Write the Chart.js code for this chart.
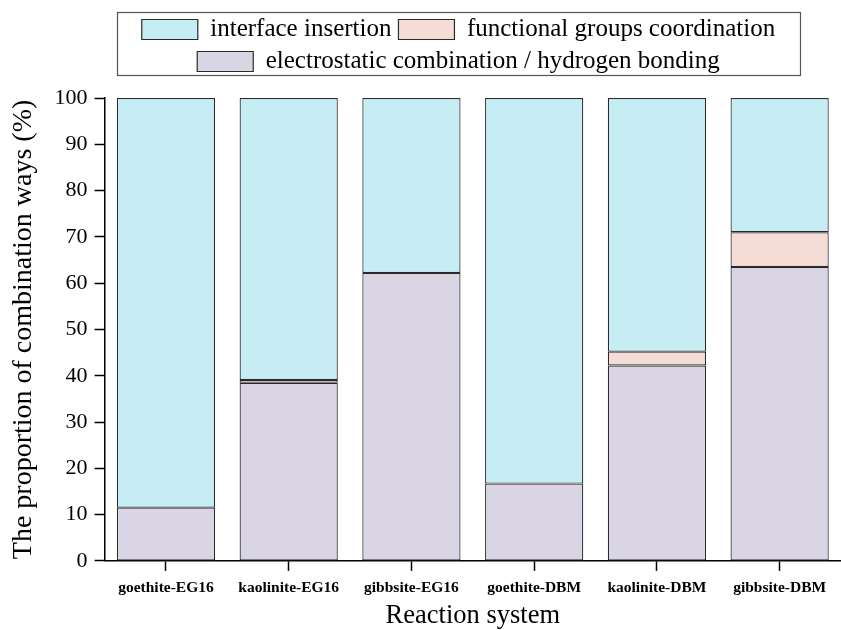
<!DOCTYPE html>
<html>
<head>
<meta charset="utf-8">
<script src="https://cdn.jsdelivr.net/npm/chart.js@4/dist/chart.umd.min.js"></script>
<style>
  html, body { margin: 0; padding: 0; background: #fff; }
  #wrap { width: 841px; height: 630px; }
</style>
</head>
<body>
<div id="wrap"><canvas id="c" width="841" height="630"></canvas></div>
<script>
// Reaction systems on the x axis
const systems = ['goethite-EG16', 'kaolinite-EG16', 'gibbsite-EG16', 'goethite-DBM', 'kaolinite-DBM', 'gibbsite-DBM'];
// Share of each combination way (%)
const electrostatic = [11.5, 38.5, 62.2, 16.7, 42.2, 63.5];
const functionalGroups = [0, 0.6, 0, 0, 3.0, 7.5];
const interfaceInsertion = [88.5, 60.9, 37.8, 83.3, 54.8, 29.0];
const yTicks = [0, 10, 20, 30, 40, 50, 60, 70, 80, 90, 100];

const serif = "'Liberation Serif', 'Times New Roman', serif";
const edge = '#2a2a2a';

// Frame around the legend entries
const legendFrame = {
  id: 'legendFrame',
  afterDraw(chart) {
    const lg = chart.legend;
    if (!lg || !lg.legendHitBoxes || !lg.legendHitBoxes.length) return;
    const boxes = lg.legendHitBoxes;
    let l = Infinity, r = -Infinity, t = Infinity, b = -Infinity;
    boxes.forEach(h => {
      l = Math.min(l, h.left); r = Math.max(r, h.left + h.width);
      t = Math.min(t, h.top); b = Math.max(b, h.top + h.height);
    });
    const ctx = chart.ctx;
    ctx.save();
    ctx.strokeStyle = '#555';
    ctx.lineWidth = 1.2;
    const x0 = Math.round(l - 25) + 0.5, y0 = Math.round(t - 5) + 0.5;
    ctx.strokeRect(x0, y0, Math.round(r - l + 50), Math.round(b - t + 6));
    ctx.restore();
  }
};

// Legend block: extra room below it, and set a little right of the canvas centre
const legendPlacement = {
  id: 'legendPlacement',
  beforeInit(chart) {
    const origFit = chart.legend.fit;
    chart.legend.fit = function () {
      origFit.bind(chart.legend)();
      this.height += 14;
    };
  },
  afterLayout(chart) {
    const lg = chart.legend;
    if (!lg) return;
    lg.left += 38;
    lg.right += 38;
  }
};

// Segments with no share get no outline
const segBorder = ctx => (ctx.type === 'data' && ctx.raw === 0 ? 0 : 1.2);

new Chart(document.getElementById('c'), {
  type: 'bar',
  data: {
    labels: systems,
    datasets: [
      { label: 'electrostatic combination / hydrogen bonding', data: electrostatic, backgroundColor: '#DAD5E5' },
      { label: 'functional groups coordination', data: functionalGroups, backgroundColor: '#F6DCD6' },
      { label: 'interface insertion', data: interfaceInsertion, backgroundColor: '#C6ECF4' }
    ].map(d => Object.assign(d, { borderColor: edge, borderWidth: segBorder, borderSkipped: false, barPercentage: 0.8, categoryPercentage: 1 }))
  },
  options: {
    responsive: false,
    animation: false,
    devicePixelRatio: 1,
    layout: { padding: { top: 10, right: 0, left: 0, bottom: 1 } },
    plugins: {
      legend: {
        position: 'top',
        reverse: true,
        labels: {
          font: { family: serif, size: 25 },
          color: '#000',
          boxWidth: 56,
          boxHeight: 20,
          padding: 7,
          generateLabels(chart) {
            return Chart.defaults.plugins.legend.labels.generateLabels(chart)
              .map(item => Object.assign(item, { lineWidth: 1.2, strokeStyle: edge }));
          }
        }
      },
      tooltip: { enabled: false }
    },
    scales: {
      x: {
        stacked: true,
        offset: true,
        grid: { display: true, drawOnChartArea: false, offset: false, tickLength: 10, color: '#000', tickWidth: 1.5 },
        border: { color: '#000', width: 1.5 },
        ticks: { font: { family: serif, size: 15.5, weight: 'bold' }, color: '#000', padding: 8, maxRotation: 0, autoSkip: false },
        title: { display: true, text: 'Reaction system', font: { family: serif, size: 26.5, lineHeight: 1 }, color: '#000', padding: { top: -3, bottom: 0 } }
      },
      y: {
        stacked: true,
        min: 0,
        max: 100,
        afterBuildTicks(axis) { axis.ticks = yTicks.map(v => ({ value: v })); },
        grid: { display: true, drawOnChartArea: false, tickLength: 10, color: '#000', tickWidth: 1.5 },
        border: { color: '#000', width: 1.5 },
        ticks: { font: { family: serif, size: 22 }, color: '#000', padding: 7 },
        title: { display: true, text: 'The proportion of combination ways (%)', font: { family: serif, size: 28 }, color: '#000', padding: { top: 7, bottom: 7 } }
      }
    }
  },
  plugins: [legendFrame, legendPlacement]
});
</script>
</body>
</html>
